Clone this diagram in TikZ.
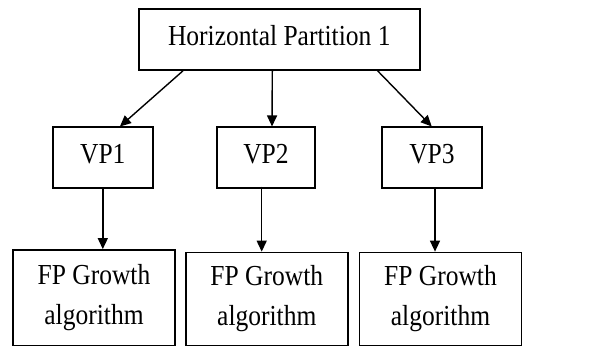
\documentclass[tikz,border=0pt]{standalone}
\usepackage{fontspec}
\setmainfont{Liberation Serif}[FakeStretch=0.88]
\usetikzlibrary{arrows.meta}

\tikzset{
  box/.style={draw=black, line width=1.7pt, inner sep=0pt, fill=white,
    font=\fontsize{29}{40}\selectfont},
  onerow/.style={box, text height=19pt, text depth=6.6pt},
  tworow/.style={box, align=center},
  arr/.style={line width=1.4pt, -{Triangle[length=11pt,width=10pt]}},
}

\begin{document}
\begin{tikzpicture}[x=1pt, y=-1pt]
  \useasboundingbox (0,0) rectangle (609,347);

  % root
  \node[onerow, minimum width=281pt, minimum height=61pt] (top) at (279.3,39.5) {Horizontal Partition 1};

  % vertical partitions
  \node[onerow, minimum width=100pt, minimum height=61pt] (vp1) at (102.8,157.8) {VP1};
  \node[onerow, minimum width=97.5pt, minimum height=61pt] (vp2) at (266,157.8) {VP2};
  \node[onerow, minimum width=99.5pt, minimum height=61pt] (vp3) at (432,157.8) {VP3};

  % mining step on each partition
  \node[tworow, minimum width=162pt, minimum height=95.5pt] (fp1) at (94,297.7) {FP Growth\\algorithm};
  \node[tworow, minimum width=162pt, minimum height=93pt] (fp2) at (266.8,299) {FP Growth\\algorithm};
  \node[tworow, minimum width=162pt, minimum height=93pt] (fp3) at (440.5,299) {FP Growth\\algorithm};

  % root to partitions
  \draw[arr] ([xshift=45pt]top.south west) -- ([xshift=68pt]vp1.north west);
  \draw[arr] ([xshift=-7pt]top.south) -- ([xshift=6pt]vp2.north);
  \draw[arr] ([xshift=-43pt]top.south east) -- ([xshift=50.3pt]vp3.north west);

  % partitions to FP growth
  \draw[arr] (vp1.south) -- (vp1.south |- fp1.north);
  \draw[arr] ([xshift=-4.3pt,yshift=2.5pt]vp2.south) -- ([xshift=-4.3pt]vp2.south |- fp2.north);
  \draw[arr] ([xshift=3pt]vp3.south) -- ([xshift=3pt]vp3.south |- fp3.north);
\end{tikzpicture}
\end{document}
